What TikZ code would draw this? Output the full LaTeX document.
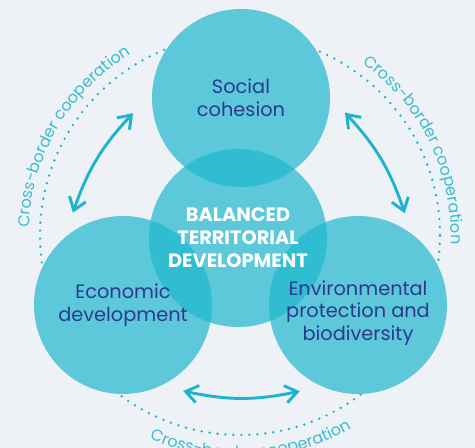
\documentclass[tikz,border=0pt]{standalone}
\usepackage{fontspec}
\setmainfont{Poppins}
\usetikzlibrary{arrows.meta,decorations.text}
\definecolor{bgpaper}{HTML}{EEF2F6}
\definecolor{bubblecol}{HTML}{5CC8D9}
\definecolor{overlapcol}{HTML}{30BCD1}
\definecolor{arrowcol}{HTML}{1FB4CE}
\definecolor{navytext}{HTML}{2B3A8E}
\definecolor{curvecol}{HTML}{3ABCD2}

\begin{document}
\begin{tikzpicture}[x=0.75pt,y=0.75pt,
        bubble/.style={circle, fill=bubblecol, minimum size=133.5pt, inner sep=0pt, outer sep=0pt},
        lbl/.style={align=center, text=navytext, font=\fontsize{14.5}{17}\selectfont},
        twoway/.style={{Straight Barb[length=9pt,width=13pt]}-{Straight Barb[length=9pt,width=13pt]}, arrowcol, line width=2.2pt},
        ring/.style={arrowcol, line width=2pt, line cap=round, dash pattern=on 0pt off 6pt},
        curvetext/.style={decorate, decoration={text along path, text align=center, text color=curvecol, text={|\fontsize{12}{14}\selectfont|#1}}}]
        \clip (0,0) rectangle (475,448);
        \fill[bgpaper] (0,0) rectangle (475,448);
        \coordinate (ringc) at (240,213);
        \draw[ring] (ringc) circle[radius=200];
        % the four circles, centre one last
        \node[bubble] (social) at (241,350) {};
        \node[bubble] (economic) at (123,143) {};
        \node[bubble] (environ) at (358,143) {};
        \node[bubble] (central) at (238,210) {};
        \begin{scope}
            \clip (central.center) circle[radius=89];
            \foreach \c in {social,economic,environ}
                \fill[overlapcol] (\c.center) circle[radius=89];
        \end{scope}
        \node[lbl] (socialtxt) at (social) {Social\\cohesion};
        \node[lbl] (economictxt) at (economic) {Economic\\development};
        \node[lbl] (environtxt) at (358,135) {Environmental\\protection and\\biodiversity};
        \node[align=center, text=white, font=\fontsize{14.5}{17.2}\selectfont\bfseries] (centraltxt) at (central) {BALANCED\\TERRITORIAL\\DEVELOPMENT};
        % arrows between the outer circles
        \coordinate (ecoup) at ([shift={(118.5:105)}]economic.center);
        \coordinate (socleft) at ([shift={(188:109)}]social.center);
        \coordinate (socright) at ([shift={(-8:105)}]social.center);
        \coordinate (envup) at ([shift={(63:103)}]environ.center);
        \coordinate (ecodown) at ([shift={(-55:105)}]economic.center);
        \coordinate (envdown) at ([shift={(236:104)}]environ.center);
        \draw[twoway] (ecoup) to[bend left=12] (socleft);
        \draw[twoway] (socright) to[bend left=12] (envup);
        \draw[twoway] (ecodown) to[bend right=12] (envdown);
        % labels on the dotted ring
        \path[curvetext={Cross-border cooperation}] (ringc) ++(189.5:211) arc[start angle=189.5, end angle=109.5, radius=211];
        \path[curvetext={Cross-border cooperation}] (ringc) ++(66:211) arc[start angle=66, end angle=-14, radius=211];
        \path[curvetext={Cross-border cooperation}] (ringc) ++(233:223) arc[start angle=233, end angle=313, radius=223];
    \end{tikzpicture}
\end{document}
